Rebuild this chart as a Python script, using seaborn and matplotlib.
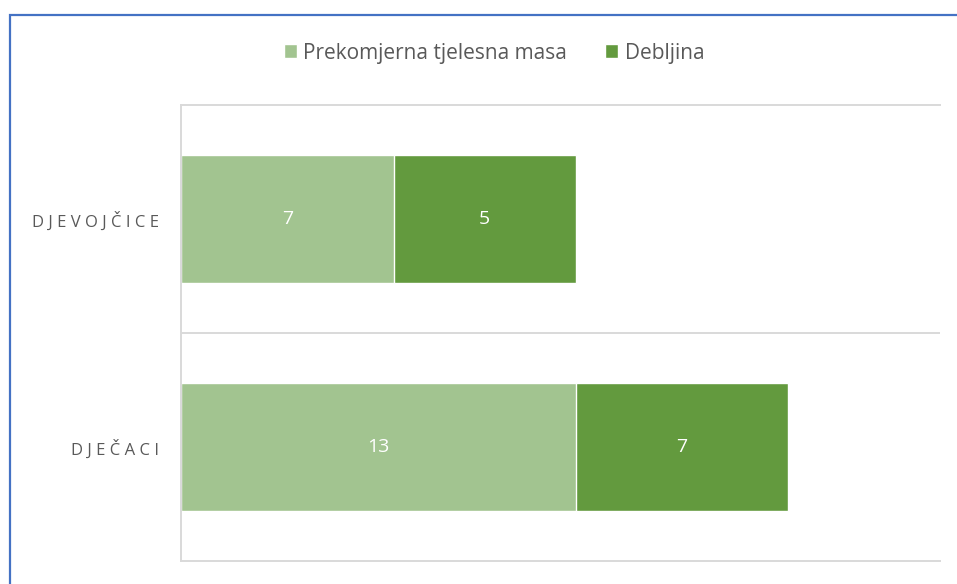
import numpy as np
import pandas as pd
import seaborn as sns
import matplotlib.pyplot as plt
from matplotlib.patches import Rectangle

# podaci
kategorije = ['DJEVOJČICE', 'DJEČACI']
prekomjerna = [7, 13]
debljina = [6, 7]            # duljina trake kako je nacrtana
debljina_oznake = ['5', '7']  # oznake kako pisu na grafu
prekomjerna_oznake = ['7', '13']

svijetla = '#A2C490'
tamna = '#639A3E'

sns.set_style('white')
plt.rcParams['font.family'] = ['Open Sans', 'DejaVu Sans']

df = pd.DataFrame({'kat': kategorije,
                   'prek': prekomjerna,
                   'ukupno': np.array(prekomjerna) + np.array(debljina)})

fig = plt.figure(figsize=(9.57, 5.84), dpi=100)
ax = fig.add_axes([181 / 957, 1 - 561 / 584, (940 - 181) / 957, (561 - 105) / 584])

sns.barplot(data=df, x='ukupno', y='kat', color=tamna, width=0.56,
            saturation=1, ax=ax, label='Debljina')
sns.barplot(data=df, x='prek', y='kat', color=svijetla, width=0.56,
            saturation=1, ax=ax, label='Prekomjerna tjelesna masa')

# oznake u sredini segmenata
for i in range(len(kategorije)):
    ax.text(prekomjerna[i] / 2, i, prekomjerna_oznake[i], color='white',
            ha='center', va='center', fontsize=14)
    ax.text(prekomjerna[i] + debljina[i] / 2, i, debljina_oznake[i],
            color='white', ha='center', va='center', fontsize=14)

ax.set_xlim(0, 25)
ax.set_ylim(1.5, -0.5)
ax.set_xlabel('')
ax.set_ylabel('')
ax.set_xticks([])
ax.set_yticks(range(len(kategorije)))
ax.set_yticklabels([' '.join(k) for k in kategorije], color='#595959', fontsize=12)
ax.tick_params(axis='y', length=0, pad=16)

for s in ['top', 'bottom', 'left']:
    ax.spines[s].set_color('#d9d9d9')
    ax.spines[s].set_linewidth(1.4)
ax.spines['right'].set_visible(False)
ax.axhline(0.5, color='#d9d9d9', lw=1.4, zorder=0)

# legenda
h, l = ax.get_legend_handles_labels()
if ax.legend_:
    ax.legend_.remove()
fig.legend(h[::-1], l[::-1], loc='center', bbox_to_anchor=(494 / 957, 1 - 53 / 584),
           ncol=2, frameon=False, fontsize=15, labelcolor='#595959',
           handlelength=0.65, handleheight=0.65, handletextpad=0.3, columnspacing=1.8)

# plavi okvir
fig.patches.append(Rectangle((10 / 957, -0.1), 1.2, 1 - 15 / 584 + 0.1,
                             transform=fig.transFigure, fill=False,
                             edgecolor='#4472C4', linewidth=1.6))

fig.savefig('out.png', dpi=100)
